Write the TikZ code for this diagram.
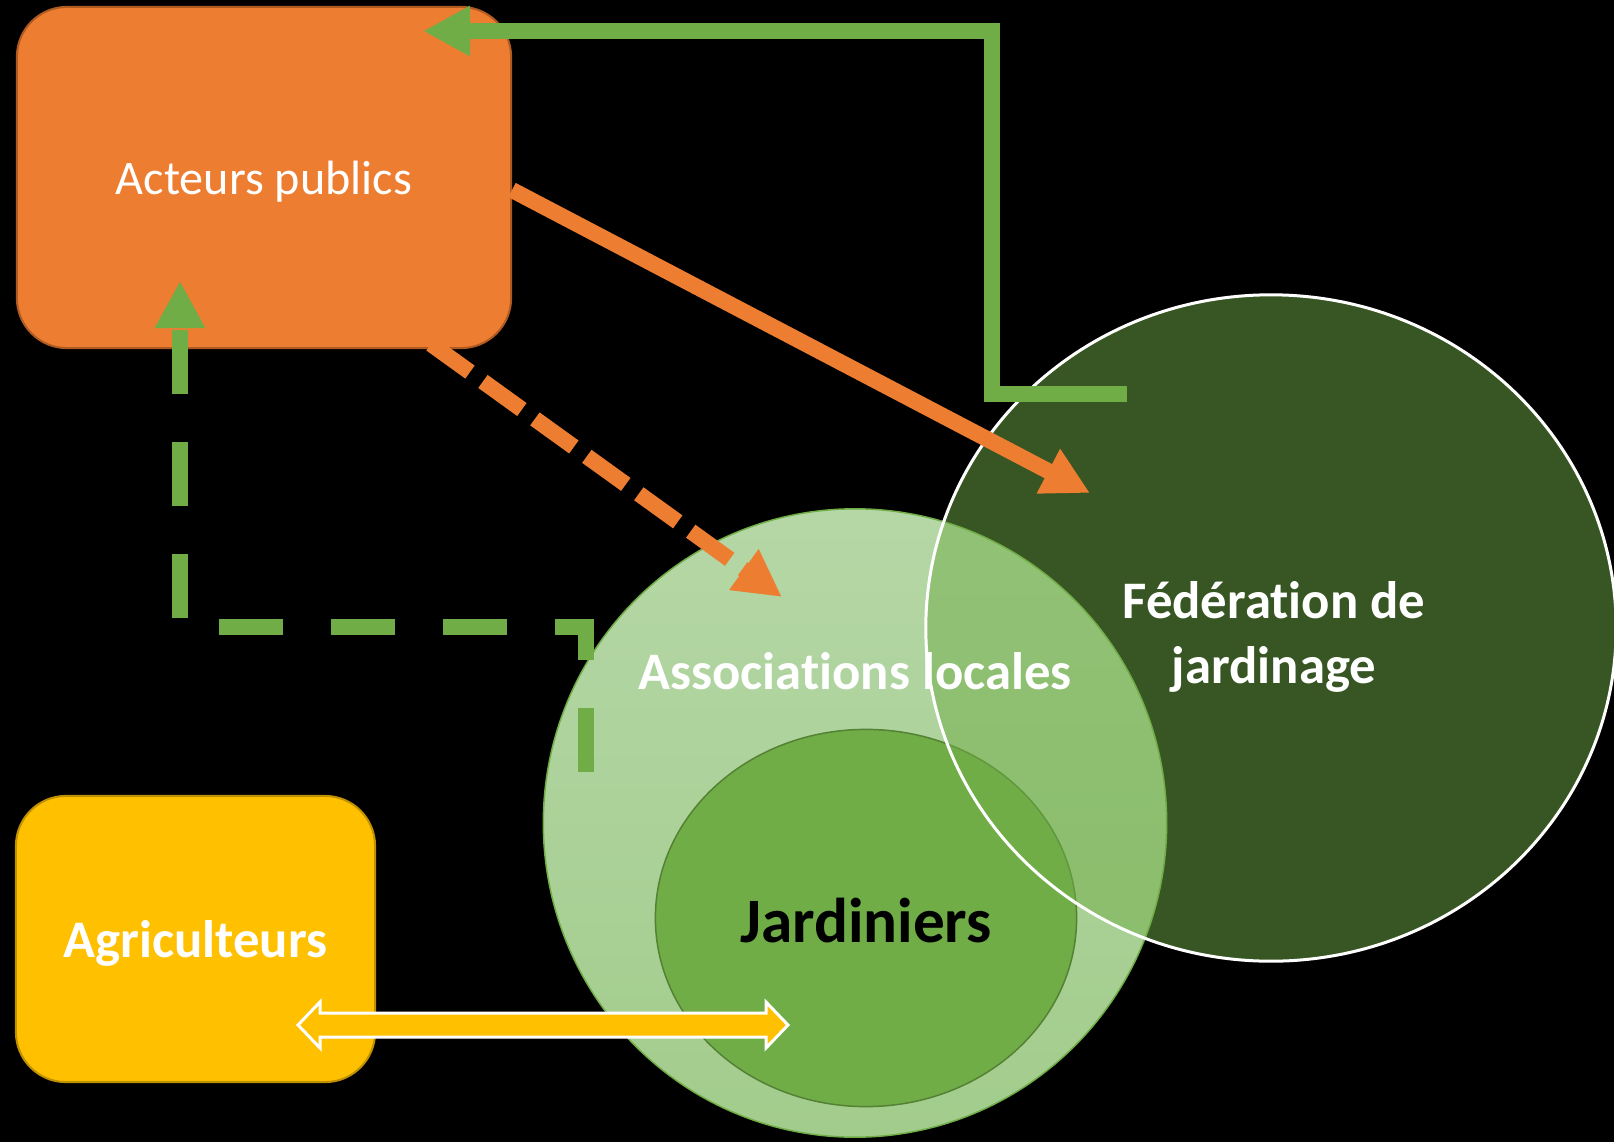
\documentclass[tikz,border=0pt]{standalone}
\usepackage{fontspec}
\setmainfont{Carlito}[Ligatures=NoCommon]
\usepackage{xcolor}
\usetikzlibrary{shapes.geometric,arrows.meta,calc}

\definecolor{pubOrange}{HTML}{ED7D31}
\definecolor{pubOrangeDark}{HTML}{AE5A21}
\definecolor{agriYellow}{HTML}{FFC000}
\definecolor{agriYellowDark}{HTML}{BF9000}
\definecolor{leafGreen}{HTML}{70AD47}
\definecolor{leafGreenDark}{HTML}{548235}
\definecolor{assocTop}{HTML}{B5D7A6}
\definecolor{assocBottom}{HTML}{A2CC8C}

\tikzset{
  roundbox/.style={rounded corners=0.5cm, line width=0.02cm, inner sep=0pt, text depth=0pt, text=white},
  labeltext/.style={font=\fontsize{15pt}{18.4pt}\selectfont\bfseries, text=white},
  greenline/.style={draw=leafGreen, line width=0.155cm, -{Triangle[length=0.47cm,width=0.47cm]}},
  orangeline/.style={draw=pubOrange, line width=0.16cm, -{Triangle[length=0.47cm,width=0.47cm]}}
}

\begin{document}
\begin{tikzpicture}[x=0.01cm, y=-0.01cm]

% Background
\fill[black] (0,0) rectangle (1614,1142);
\useasboundingbox (0,0) rectangle (1614,1142);

% Boxes
\node[roundbox, draw=pubOrangeDark, fill=pubOrange, minimum width=4.94cm, minimum height=3.41cm,
      text height=0.33cm, font=\fontsize{13.7pt}{16pt}\selectfont] (acteurs) at (264,177.5) {Acteurs publics};
\node[roundbox, draw=agriYellowDark, fill=agriYellow, minimum width=3.59cm, minimum height=2.86cm,
      text height=0.36cm, labeltext] (agri) at (195.5,939) {Agriculteurs};

% Circles
\node[ellipse, draw=leafGreen, line width=0.015cm, top color=assocTop, bottom color=assocBottom,
      minimum width=6.23cm, minimum height=6.28cm, inner sep=0pt] (assoc) at (855,823) {};
\node[ellipse, draw=leafGreenDark, line width=0.015cm, fill=leafGreen, minimum width=4.21cm, minimum height=3.77cm,
      inner sep=0pt, text height=0.48cm, text depth=0pt, font=\fontsize{18pt}{22pt}\selectfont\bfseries] (jard) at (866,918) {Jardiniers};
\node[ellipse, draw=white, line width=0.03cm, fill=leafGreen, fill opacity=0.5,
      minimum width=6.9cm, minimum height=6.66cm, inner sep=0pt] (fed) at (1271,628) {};

% Labels of the circles
\node[labeltext, anchor=base] (assoclabel) at (855,689) {Associations locales};
\node[labeltext, align=center] (fedlabel) at (1274,637) {Fédération de\\jardinage};

% Connector ends
\coordinate (actright) at (512,190);  % out of Acteurs publics
\coordinate (fedin) at (1090,493);    % into Federation
\coordinate (actbotr) at (431,344);   % out of Acteurs publics, bottom
\coordinate (associn) at (782,597);   % into Associations
\coordinate (fedout) at (1127,394);   % out of Federation
\coordinate (fedbend) at (992,31);    % top bend
\coordinate (acttop) at (423,31);     % into Acteurs publics, top
\coordinate (assocout) at (586,772);  % out of Associations
\coordinate (dashbend) at (180,627);  % bottom left bend
\coordinate (actbotl) at (180,281);   % into Acteurs publics, bottom
\coordinate (agritip) at (298,1025);  % tip in Agriculteurs
\coordinate (jardtip) at (788,1025);  % tip in Jardiniers

% Orange arrows
\draw[orangeline] (actright) -- (fedin);
\draw[orangeline, dash pattern=on 0.48cm off 0.16cm] (actbotr) -- (associn);

% Green arrows
\draw[greenline] (fedout) -| (fedbend) -- (acttop);
\draw[greenline, line width=0.16cm, dash pattern=on 0.64cm off 0.48cm] (assocout) |- (dashbend) -- (actbotl);

% Double arrow between Agriculteurs and Jardiniers
\draw[white, line width=0.03cm, fill=agriYellow] (agritip) -- ++(22,-23) -- ++(0,11) -- ($(jardtip)+(-22,-12)$)
  -- ++(0,-11) -- (jardtip) -- ++(-22,23) -- ++(0,-11) -- ($(agritip)+(22,12)$) -- ++(0,11) -- cycle;

\end{tikzpicture}
\end{document}
